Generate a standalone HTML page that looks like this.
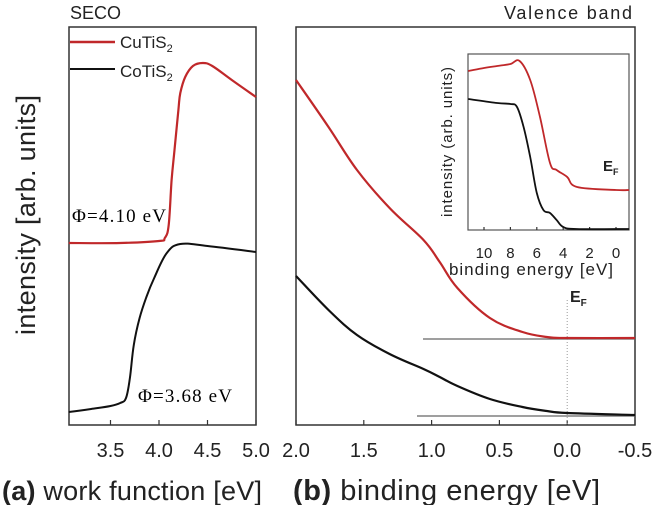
<!DOCTYPE html>
<html><head><meta charset="utf-8"><style>
body{margin:0;background:#fff;}
svg{display:block;font-family:"Liberation Sans",sans-serif;}
</style></head><body>
<svg id="c" width="658" height="505" viewBox="0 0 658 505">
<text x="70" y="19" font-size="18" fill="#222">SECO</text>
<text x="632" y="19" font-size="18" text-anchor="end" fill="#222" textLength="128">Valence band</text>
<rect x="69" y="27" width="187" height="398" fill="none" stroke="#333" stroke-width="1.5"/>
<rect x="296" y="27" width="339" height="398" fill="none" stroke="#333" stroke-width="1.5"/>
<rect x="468" y="54" width="161" height="176" fill="none" stroke="#555" stroke-width="1.2"/>
<g id="ga"></g><g id="gb"></g><g id="gi"></g>
<line x1="70" y1="42" x2="115" y2="42" stroke="#c0282a" stroke-width="2.5"/>
<text x="120" y="48" font-size="17" fill="#222">CuTiS<tspan font-size="11" dy="4">2</tspan></text>
<line x1="70" y1="69" x2="115" y2="69" stroke="#111" stroke-width="2"/>
<text x="120" y="77" font-size="17" fill="#222">CoTiS<tspan font-size="11" dy="4">2</tspan></text>
<text x="72" y="222" font-size="19" font-family="Liberation Serif,serif" textLength="94">Φ=4.10 eV</text>
<text x="138" y="402" font-size="19" font-family="Liberation Serif,serif" textLength="94">Φ=3.68 eV</text>
<text transform="translate(35,215) rotate(-90)" font-size="27" text-anchor="middle" fill="#222" textLength="240">intensity [arb. units]</text>
<text x="2" y="500" font-size="27" fill="#222" textLength="260"><tspan font-weight="bold">(a)</tspan> work function [eV]</text>
<text x="293" y="500" font-size="29" fill="#222" textLength="307"><tspan font-weight="bold">(b)</tspan> binding energy [eV]</text>
<text x="570" y="302" font-size="16" font-weight="bold" fill="#222">E<tspan font-size="10" dy="4">F</tspan></text>
<text x="603" y="171" font-size="15" font-weight="bold" fill="#222">E<tspan font-size="9" dy="4">F</tspan></text>
<text transform="translate(452,142) rotate(-90)" font-size="15" text-anchor="middle" textLength="150" fill="#222">intensity (arb. units)</text>
<text x="531" y="275" font-size="17" text-anchor="middle" textLength="164" fill="#222">binding energy [eV]</text>
</svg>
<script>
const aTicks=[3.5,4.0,4.5,5.0];
const aX=[3.07,3.3,3.5,3.6,3.66,3.7,3.74,3.8,3.87,3.95,4.08,4.22,4.5,5.0];
const aBlack=[412,409,406,403,398,378,345,318,297,278,253,244,246,252];
const aRedX=[3.07,3.6,4.0,4.06,4.10,4.13,4.16,4.2,4.22,4.27,4.35,4.45,4.55,4.75,5.0];
const aRed=[243,243,241,238,225,180,150,110,93,77,66,63,66,80,97];
const bTicks=[2.0,1.5,1.0,0.5,0.0,-0.5];
const bX=[2.0,1.76,1.55,1.31,1.06,0.94,0.81,0.57,0.33,0.15,0.0,-0.5];
const bRed=[80,127,170,208,240,262,288,318,332,337,338,338];
const bBlack=[276,310,335,354,369,377,386,399,407,411,413,415];
const iTicks=[10,8,6,4,2,0];
const iX=[11.2,10,9,8,7.3,6.5,5.76,5.0,4.5,3.7,2.95,0,-1];
const iRed=[71,68,66,64,61,80,117,163,170,177,187,190,190];
const iBX=[11.2,9,8,7.5,7.0,6.5,6.0,5.5,5.0,4.5,4.0,3,-1];
const iBlack=[99,103,104,107,127,157,193,210,213,220,227,229,229];
const NS='http://www.w3.org/2000/svg';
const xa=v=>256-(5-v)*97, xb=v=>296+(2-v)*135.6, xi=v=>616-v*13.2;
function mk(g,t,at){const e=document.createElementNS(NS,t);for(const k in at)e.setAttribute(k,at[k]);document.getElementById(g).appendChild(e);return e;}
function path(g,xs,ys,f,col,w,name){
 const P=xs.map((v,i)=>[f(v),ys[i]]);
 let d='M'+P[0][0].toFixed(1)+','+P[0][1];
 for(let i=0;i<P.length-1;i++){
  const p0=P[Math.max(0,i-1)],p1=P[i],p2=P[i+1],p3=P[Math.min(P.length-1,i+2)];
  const t=0.18;
  const c1=[p1[0]+(p2[0]-p0[0])*t,p1[1]+(p2[1]-p0[1])*t];
  const c2=[p2[0]-(p3[0]-p1[0])*t,p2[1]-(p3[1]-p1[1])*t];
  d+='C'+c1[0].toFixed(1)+','+c1[1].toFixed(1)+' '+c2[0].toFixed(1)+','+c2[1].toFixed(1)+' '+p2[0].toFixed(1)+','+p2[1];
 }
 const p=mk(g,'path',{d:d,fill:'none',stroke:col,'stroke-width':w,'stroke-linejoin':'round'});
 
 
}
function ticks(g,arr,f,y0,len,fs,dy,name,fmt){
 arr.forEach(v=>{
  const l=mk(g,'line',{x1:f(v),x2:f(v),y1:y0,y2:y0-len,stroke:'#333','stroke-width':1.2});
  
  
  const t=mk(g,'text',{x:f(v),y:y0+dy,'font-size':fs,'text-anchor':'middle',fill:'#222'});
  t.textContent=fmt(v);
  
  
 });
}
ticks('ga',aTicks,xa,425,5,20,32,'x-axis-a',v=>v.toFixed(1));
ticks('gb',bTicks,xb,425,5,20,32,'x-axis-b',v=>v.toFixed(1));
ticks('gi',iTicks,xi,230,3,15,28,'inset-x',v=>String(v));
path('ga',aRedX,aRed,xa,'#c0282a',2.2,'cutis2-seco-line');
path('ga',aX,aBlack,xa,'#111',2,'cotis2-seco-line');
mk('gb','line',{x1:423,x2:635,y1:339,y2:339,stroke:'#666','stroke-width':1.2});
mk('gb','line',{x1:417,x2:635,y1:416,y2:416,stroke:'#666','stroke-width':1.2});
mk('gb','line',{x1:xb(0),x2:xb(0),y1:300,y2:425,stroke:'#999','stroke-width':1,'stroke-dasharray':'1,2'});
path('gb',bX,bRed,xb,'#c0282a',2.2,'cutis2-vb-line');
path('gb',bX,bBlack,xb,'#111',2.2,'cotis2-vb-line');
path('gi',iX,iRed,xi,'#c0282a',1.8,'inset-cutis2-line');
path('gi',iBX,iBlack,xi,'#111',1.8,'inset-cotis2-line');
</script>
</body></html>
